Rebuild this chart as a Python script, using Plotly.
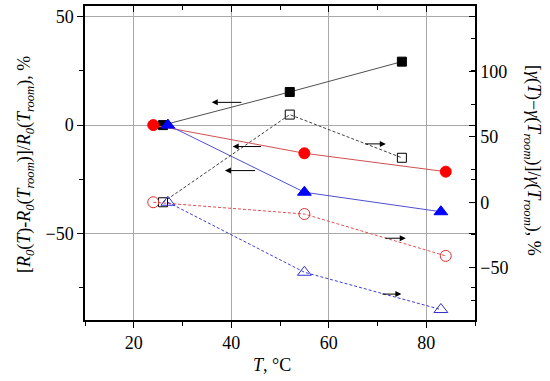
import plotly.graph_objects as go

# ---- data ----
T_sq = [26, 52, 75]
T_ci = [24, 55, 84]
T_tr = [27, 55, 83]

R_sq = [0, 15.3, 29.3]      # left axis, filled squares
R_ci = [0, -13.0, -21.5]    # left axis, filled circles
R_tr = [0, -31.0, -40.0]    # left axis, filled triangles

G_sq = [0, 67, 34]          # right axis, open squares
G_ci = [0, -9, -41]         # right axis, open circles
G_tr = [0, -53.5, -82]      # right axis, open triangles

x_ticks = [20, 40, 60, 80]
x_minor = [10, 30, 50, 70, 90]
yl_ticks = [-50, 0, 50]
yl_minor = [-75, -25, 25]
yr_ticks = [-50, 0, 50, 100]
yr_minor = [-75, -25, 25, 75, 125, 150]

# arrows: (tail_x, head_x, y)
arrows_left = [(42.4, 36.0, 10.5), (46.4, 40.3, -9.9), (45.2, 38.7, -21.0)]
arrows_right = [(67.2, 71.7, 44.6), (71.3, 75.8, -27.5), (70.7, 74.9, -70.2)]

FONT = "Liberation Serif, Times New Roman, serif"
fig = go.Figure()

def add(x, y, color, lcolor, symbol, size, dash, axis):
    fig.add_trace(go.Scatter(
        x=x, y=y, mode="lines+markers", yaxis=axis,
        line=dict(color=lcolor, width=1, dash=dash),
        marker=dict(symbol=symbol, size=size, color=color,
                    line=dict(color=color, width=1)),
        showlegend=False, cliponaxis=False))

add(T_sq, R_sq, "#000000", "#505050", "square", 9, "solid", "y")
add(T_ci, R_ci, "#ff0000", "#d05050", "circle", 11, "solid", "y")
add(T_tr, R_tr, "#0000ff", "#5050d0", "triangle-up", 12, "solid", "y")
add(T_sq, G_sq, "#000000", "#404040", "square-open", 9, "3px,2px", "y2")
add(T_ci, G_ci, "#e03030", "#e05050", "circle-open", 11, "3px,2px", "y2")
add(T_tr, G_tr, "#3030d0", "#4040d0", "triangle-up-open", 12, "3px,2px", "y2")

# dummy trace for mirrored axes
fig.add_trace(go.Scatter(x=[None], y=[None], xaxis="x2", yaxis="y3",
                         showlegend=False, hoverinfo="skip"))

anns = []
for tx, hx, y in arrows_left:
    anns.append(dict(x=hx, y=y, ax=tx, ay=y, xref="x", yref="y", axref="x", ayref="y",
                     showarrow=True, arrowhead=2, arrowsize=1.2, arrowwidth=1,
                     arrowcolor="black", text=""))
for tx, hx, y in arrows_right:
    anns.append(dict(x=hx, y=y, ax=tx, ay=y, xref="x", yref="y2", axref="x", ayref="y2",
                     showarrow=True, arrowhead=2, arrowsize=1.2, arrowwidth=1,
                     arrowcolor="black", text=""))

W, H = 550, 381
L, R, Tm, B = 85, 75, 6, 61
pw, ph = W - L - R, H - Tm - B

def px(xp):
    return (xp - L) / pw

def py(yp):
    return 1 - (yp - Tm) / ph

anns.append(dict(
    text="[<i>R</i><sub><i>0</i></sub>(<i>T</i>)-<i>R</i><sub><i>0</i></sub>(<i>T</i><sub><i>room</i></sub>)]/<i>R</i><sub><i>0</i></sub>(<i>T</i><sub><i>room</i></sub>), %",
    x=px(25), y=py(165), xref="paper", yref="paper", showarrow=False, textangle=-90,
    xanchor="center", yanchor="middle",
    font=dict(family=FONT, size=18, color="black")))
anns.append(dict(
    text="[<i>γ</i>(<i>T</i>)−<i>γ</i>(<i>T</i><sub><i>room</i></sub>)]/<i>γ</i>(<i>T</i><sub><i>room</i></sub>), %",
    x=px(533), y=py(160), xref="paper", yref="paper", showarrow=False, textangle=90,
    xanchor="center", yanchor="middle",
    font=dict(family=FONT, size=18, color="black")))
anns.append(dict(
    text="<i>T</i>, °C", x=px(272), y=py(365), xref="paper", yref="paper", showarrow=False,
    xanchor="center", yanchor="middle",
    font=dict(family=FONT, size=18, color="black")))

axis_common = dict(showline=True, linecolor="black", linewidth=1.5,
                   tickfont=dict(family=FONT, size=18, color="black"),
                   tickcolor="black", zeroline=False)

fig.update_layout(
    width=W, height=H, margin=dict(l=L, r=R, t=Tm, b=B),
    paper_bgcolor="white", plot_bgcolor="white",
    annotations=anns,
    xaxis=dict(range=[10, 90], tickvals=x_ticks, ticks="outside", ticklen=6, tickwidth=1,
               showgrid=True, gridcolor="#a8a8a8", gridwidth=1,
               minor=dict(tickvals=x_minor, ticks="outside", ticklen=4, tickcolor="black"),
               **axis_common),
    xaxis2=dict(range=[10, 90], overlaying="x", side="top", anchor="y",
                tickvals=x_ticks, ticks="inside", ticklen=6, showticklabels=False,
                showgrid=False,
                minor=dict(tickvals=x_minor, ticks="inside", ticklen=4, tickcolor="black"),
                **axis_common),
    yaxis=dict(range=[-90, 55], tickvals=yl_ticks, ticks="outside", ticklen=6,
               showgrid=True, gridcolor="#a8a8a8", gridwidth=1,
               minor=dict(tickvals=yl_minor, ticks="outside", ticklen=4, tickcolor="black"),
               **axis_common),
    yaxis2=dict(range=[-90, 150], overlaying="y", side="right", anchor="x",
                tickvals=yr_ticks, ticks="inside", ticklen=6, showgrid=False,
                minor=dict(tickvals=yr_minor, ticks="inside", ticklen=4, tickcolor="black"),
                **axis_common),
    yaxis3=dict(range=[-90, 55], overlaying="y", side="right", anchor="x",
                tickvals=yl_ticks, ticks="inside", ticklen=6, showticklabels=False,
                showgrid=False,
                minor=dict(tickvals=yl_minor, ticks="inside", ticklen=4, tickcolor="black"),
                **axis_common),
)

fig.write_html("out.html", config={"displayModeBar": False},
               post_script="document.body.style.margin='0';")
